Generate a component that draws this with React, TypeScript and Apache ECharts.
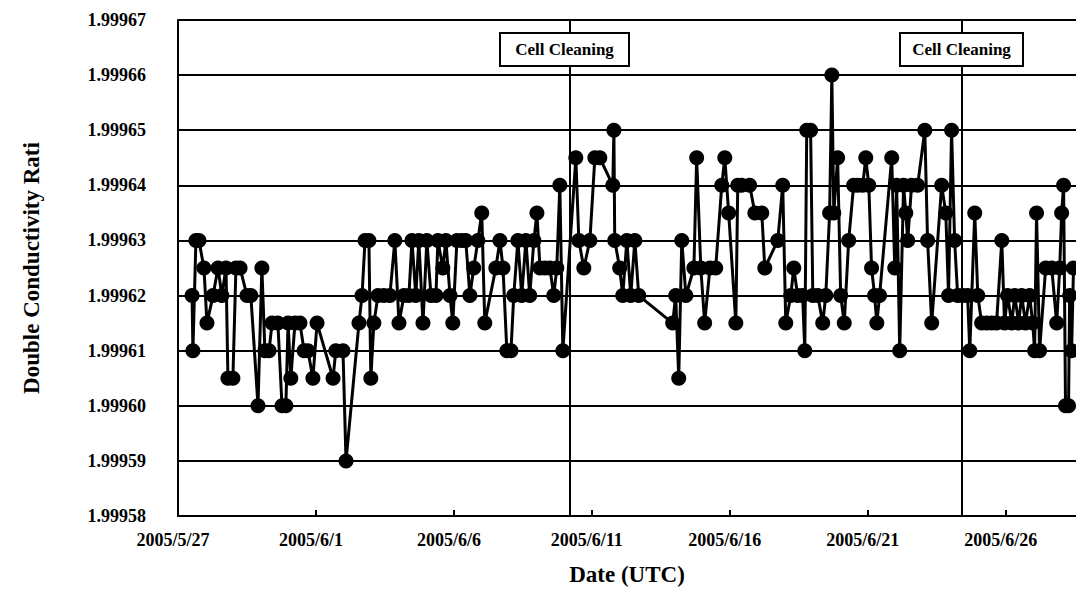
import React, { useEffect, useRef } from "react";
import * as echarts from "echarts";

// Days elapsed since 2005-05-27 00:00 UTC
const dayOffsets: number[] = [
  0.51, 0.54, 0.65, 0.76, 0.94, 1.05, 1.27, 1.45, 1.59, 1.74, 1.81, 1.99, 2.10, 2.25, 2.50, 2.64, 2.90, 3.04, 3.15, 3.30,
  3.41, 3.62, 3.77, 3.91, 3.99, 4.09, 4.24, 4.42, 4.57, 4.71, 4.89, 5.04, 5.62, 5.72, 5.98, 6.09, 6.56, 6.67, 6.78, 6.92,
  6.99, 7.10,
  7.25, 7.46, 7.68, 7.86, 8.01, 8.19, 8.37, 8.48, 8.62, 8.73, 8.88, 9.02, 9.17, 9.35, 9.42, 9.60, 9.71, 9.86, 9.96, 10.11,
  10.29, 10.43, 10.58, 10.72, 10.87, 11.01, 11.12, 11.52, 11.67, 11.78, 11.92, 12.07, 12.17, 12.32, 12.46, 12.61, 12.75,
  12.90, 13.01, 13.12, 13.30, 13.48, 13.62, 13.73, 13.84, 13.95,
  14.42, 14.53, 14.71, 14.93, 15.11, 15.29, 15.76, 15.80, 15.83, 16.01, 16.12, 16.27, 16.41, 16.56, 16.70, 17.93, 18.04,
  18.15, 18.26, 18.41, 18.70, 18.80, 18.95, 19.09, 19.28, 19.49, 19.71, 19.82, 19.96, 20.22, 20.29,
  20.43, 20.72, 20.91, 21.16, 21.27, 21.74, 21.92, 22.03, 22.21, 22.32, 22.46, 22.64, 22.72, 22.79, 22.93, 23.01, 23.19,
  23.37, 23.48, 23.62, 23.70, 23.77, 23.91, 24.02, 24.15, 24.31, 24.49, 24.64, 24.82, 24.93, 25.04, 25.14, 25.25, 25.33,
  25.43, 25.87, 25.98, 26.05, 26.16,
  26.30, 26.38, 26.45, 26.59, 26.81, 27.07, 27.17, 27.32, 27.68, 27.83, 27.93, 28.04, 28.15, 28.26, 28.44, 28.62, 28.70,
  28.88, 28.99, 29.13, 29.31, 29.49, 29.67, 29.86, 29.96, 30.07, 30.22, 30.33, 30.47, 30.58, 30.72, 30.87, 30.98, 31.05,
  31.12, 31.23, 31.45, 31.67, 31.85, 31.96, 32.03, 32.10, 32.17, 32.28, 32.32, 32.39, 32.46,
];

const ratioValues: number[] = [
  1.99962, 1.99961, 1.99963, 1.99963, 1.999625, 1.999615, 1.99962, 1.999625, 1.99962, 1.999625, 1.999605, 1.999605,
  1.999625, 1.999625, 1.99962, 1.99962, 1.9996, 1.999625, 1.99961, 1.99961, 1.999615, 1.999615, 1.9996, 1.9996,
  1.999615, 1.999605, 1.999615, 1.999615, 1.99961, 1.99961, 1.999605, 1.999615, 1.999605, 1.99961, 1.99961, 1.99959,
  1.999615, 1.99962, 1.99963, 1.99963, 1.999605, 1.999615,
  1.99962, 1.99962, 1.99962, 1.99963, 1.999615, 1.99962, 1.99962, 1.99963, 1.99962, 1.99963, 1.999615, 1.99963,
  1.99962, 1.99962, 1.99963, 1.999625, 1.99963, 1.99962, 1.999615, 1.99963, 1.99963, 1.99963, 1.99962, 1.999625,
  1.99963, 1.999635, 1.999615, 1.999625, 1.99963, 1.999625, 1.99961, 1.99961, 1.99962, 1.99963, 1.99962, 1.99963,
  1.99962, 1.99963, 1.999635, 1.999625, 1.999625, 1.999625, 1.99962, 1.999625, 1.99964, 1.99961,
  1.999645, 1.99963, 1.999625, 1.99963, 1.999645, 1.999645, 1.99964, 1.99965, 1.99963, 1.999625, 1.99962, 1.99963,
  1.99962, 1.99963, 1.99962, 1.999615, 1.99962, 1.999605, 1.99963, 1.99962, 1.999625, 1.999645, 1.999625, 1.999615,
  1.999625, 1.999625, 1.99964, 1.999645, 1.999635, 1.999615, 1.99964,
  1.99964, 1.99964, 1.999635, 1.999635, 1.999625, 1.99963, 1.99964, 1.999615, 1.99962, 1.999625, 1.99962, 1.99962,
  1.99961, 1.99965, 1.99965, 1.99962, 1.99962, 1.999615, 1.99962, 1.999635, 1.99966, 1.999635, 1.999645, 1.99962,
  1.999615, 1.99963, 1.99964, 1.99964, 1.99964, 1.999645, 1.99964, 1.999625, 1.99962, 1.999615, 1.99962, 1.999645,
  1.999625, 1.99964, 1.99961,
  1.99964, 1.999635, 1.99963, 1.99964, 1.99964, 1.99965, 1.99963, 1.999615, 1.99964, 1.999635, 1.99962, 1.99965,
  1.99963, 1.99962, 1.99962, 1.99962, 1.99961, 1.999635, 1.99962, 1.999615, 1.999615, 1.999615, 1.999615, 1.99963,
  1.999615, 1.99962, 1.999615, 1.99962, 1.999615, 1.99962, 1.999615, 1.99962, 1.999615, 1.99961, 1.999635, 1.99961,
  1.999625, 1.999625, 1.999615, 1.999625, 1.999635, 1.99964, 1.9996, 1.9996, 1.99962, 1.99961, 1.999625,
];

// Cell cleaning events (days since 2005-05-27)
const cleaningDays: number[] = [14.2, 28.41];
const cleaningLabels: string[] = ["Cell Cleaning", "Cell Cleaning"];

const yTickMin = 1.99958;
const yTickMax = 1.99967;
const yTickStep = 0.00001;
const xDayMax = 32.55;
const xDayStep = 5;
const startDateUTC = Date.UTC(2005, 4, 27);

const FONT = "'Liberation Serif', 'Times New Roman', serif";

function dayLabel(v: number): string {
  const d = new Date(startDateUTC + Math.round(v) * 86400000);
  return `${d.getUTCFullYear()}/${d.getUTCMonth() + 1}/${d.getUTCDate()}`;
}

export default function App() {
  const ref = useRef<HTMLDivElement>(null);

  useEffect(() => {
    if (!ref.current) return;
    const chart = echarts.init(ref.current, undefined, { renderer: "svg" });
    const points = dayOffsets.map((d, i) => [d, ratioValues[i]]);

    const boxes = [
      { left: 499, top: 32, width: 129, height: 33 },
      { left: 899, top: 32, width: 123, height: 33 },
    ];

    chart.setOption({
      animation: false,
      backgroundColor: "#ffffff",
      grid: { left: 178, top: 20, right: 0, bottom: 72, containLabel: false },
      xAxis: {
        type: "value",
        min: 0,
        max: xDayMax,
        interval: xDayStep,
        name: "Date (UTC)",
        nameLocation: "middle",
        nameGap: 47,
        nameTextStyle: { fontFamily: FONT, fontWeight: "bold", fontSize: 23, color: "#000" },
        axisLine: { show: true, onZero: false, lineStyle: { color: "#000", width: 2 } },
        axisTick: { show: true, inside: true, length: 6, lineStyle: { color: "#000", width: 2 } },
        axisLabel: {
          formatter: (v: number) => dayLabel(v),
          fontFamily: FONT,
          fontWeight: "bold",
          fontSize: 18,
          color: "#000",
          margin: 15,
          showMaxLabel: false,
          padding: [0, 10, 0, 0],
        },
        splitLine: { show: false },
      },
      yAxis: {
        type: "value",
        min: yTickMin,
        max: yTickMax,
        interval: yTickStep,
        name: "Double Conductivity Rati",
        nameLocation: "middle",
        nameRotate: 90,
        nameGap: 135,
        nameTextStyle: { fontFamily: FONT, fontWeight: "bold", fontSize: 23, color: "#000" },
        axisLine: { show: true, lineStyle: { color: "#000", width: 2 } },
        axisTick: { show: false },
        axisLabel: {
          formatter: (v: number) => v.toFixed(5),
          fontFamily: FONT,
          fontWeight: "bold",
          fontSize: 18,
          color: "#000",
          margin: 32,
        },
        splitLine: { show: true, lineStyle: { color: "#000", width: 2 } },
      },
      series: [
        {
          type: "line",
          data: points,
          symbol: "circle",
          symbolSize: 15,
          showAllSymbol: true,
          itemStyle: { color: "#000" },
          lineStyle: { color: "#000", width: 3 },
          markLine: {
            silent: true,
            symbol: ["none", "none"],
            label: { show: false },
            lineStyle: { color: "#000", width: 2, type: "solid" },
            data: cleaningDays.map((d) => ({ xAxis: d })),
          },
          z: 3,
        },
      ],
      graphic: cleaningLabels.map((t, i) => ({
        type: "group",
        left: boxes[i].left,
        top: boxes[i].top,
        z: 100,
        children: [
          {
            type: "rect",
            shape: { x: 0, y: 0, width: boxes[i].width, height: boxes[i].height },
            style: { fill: "#fff", stroke: "#000", lineWidth: 2 },
            z: 100,
          },
          {
            type: "text",
            x: boxes[i].width / 2,
            y: boxes[i].height / 2,
            style: {
              text: t,
              fontFamily: FONT,
              fontWeight: "bold",
              fontSize: 17,
              fill: "#000",
              align: "center",
              verticalAlign: "middle",
            },
            z: 101,
          },
        ],
      })),
    });

    return () => chart.dispose();
  }, []);

  return (
    <div
      ref={ref}
      style={{ position: "absolute", left: 0, top: 0, width: 1076, height: 591 }}
    />
  );
}
